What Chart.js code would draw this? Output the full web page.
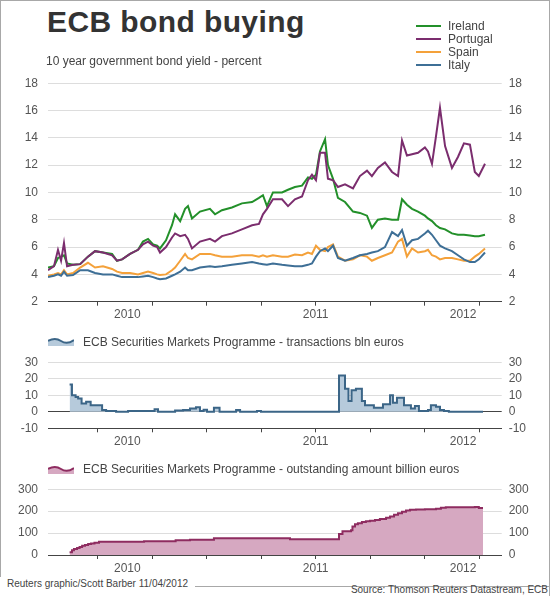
<!DOCTYPE html>
<html>
<head>
<meta charset="utf-8">
<script src="https://cdn.jsdelivr.net/npm/chart.js@4.4.1/dist/chart.umd.min.js"></script>
<style>
  body { margin: 0; background: #fff; }
  #page { position: relative; width: 550px; height: 596px; overflow: hidden;
          font-family: "Liberation Sans", Arial, sans-serif; color: #444; background: #fff; }
  .t { position: absolute; white-space: nowrap; }
  .ln { position: absolute; background: #a8a8a8; }
  canvas { position: absolute; left: 0; }
  .key { position: absolute; height: 2px; width: 25px; left: 416px; }
</style>
</head>
<body>
<div id="page">
  <div class="ln" style="left:0;top:0;width:550px;height:1px"></div>
  <div class="ln" style="left:0;top:0;width:1px;height:577px"></div>
  <div class="ln" style="left:549px;top:0;width:1px;height:596px"></div>
  <div class="ln" style="left:195px;top:586px;width:355px;height:1px"></div>

  <canvas id="yieldChart" width="550" height="264" style="top:66px"></canvas>
  <canvas id="smpChart" width="550" height="110" style="top:345px"></canvas>
  <canvas id="stockChart" width="550" height="106" style="top:472px"></canvas>

  <div class="t" style="left:47px;top:7px;font-size:30px;line-height:30px;font-weight:bold;letter-spacing:0.4px;color:#333">ECB bond buying</div>
  <div class="t" style="left:46px;top:55px;font-size:12px;line-height:12px">10 year government bond yield - percent</div>

  <div class="key" style="top:25px;background:#23902a"></div>
  <div class="t" style="left:448px;top:20px;font-size:12px;line-height:12px">Ireland</div>
  <div class="key" style="top:38px;background:#7b2d6e"></div>
  <div class="t" style="left:448px;top:33px;font-size:12px;line-height:12px">Portugal</div>
  <div class="key" style="top:51px;background:#f4a13a"></div>
  <div class="t" style="left:448px;top:46px;font-size:12px;line-height:12px">Spain</div>
  <div class="key" style="top:63.5px;background:#3e6f96"></div>
  <div class="t" style="left:448px;top:58.5px;font-size:12px;line-height:12px">Italy</div>

  <svg class="t" style="left:48px;top:337px" width="26" height="9">
    <path d="M0 4 Q7 0 13 4 T26 3 L26 9 L0 9 Z" fill="#b6cadb"/>
    <path d="M0 4 Q7 0 13 4 T26 3" fill="none" stroke="#3b6587" stroke-width="2"/>
  </svg>
  <div class="t" style="left:83px;top:335.7px;font-size:12px;line-height:12px">ECB Securities Markets Programme - transactions bln euros</div>

  <svg class="t" style="left:48px;top:465px" width="26" height="9">
    <path d="M0 4 Q7 0 13 4 T26 3 L26 9 L0 9 Z" fill="#d6a8c1"/>
    <path d="M0 4 Q7 0 13 4 T26 3" fill="none" stroke="#8e2c60" stroke-width="2"/>
  </svg>
  <div class="t" style="left:83px;top:463.3px;font-size:12px;line-height:12px">ECB Securities Markets Programme - outstanding amount billion euros</div>

  <div class="t" style="left:7px;top:579px;font-size:10px;line-height:10px">Reuters graphic/Scott Barber 11/04/2012</div>
  <div class="t" style="right:2px;top:585px;font-size:10px;line-height:10px">Source: Thomson Reuters Datastream, ECB</div>
</div>

<script>
// x values are months since 1 Jan 2010 (6 = Jul 2010, 12 = Jan 2011 ...)
const X_MIN = 3.26;
const X_MAX = 28.25;
const quarterTicks = [6, 9, 12, 15, 18, 21, 24, 27];
const years = [2010, 2011, 2012];

// 10 year government bond yields, percent
const yieldMonths = [3.26, 3.59, 3.81, 3.98, 4.14, 4.31, 4.64, 5.03, 5.46, 5.85,
  6.29, 6.79, 7.06, 7.34, 7.78, 8.22, 8.49, 8.77, 9.05, 9.27,
  9.43, 9.76, 10.09, 10.26, 10.54, 10.81, 10.97, 11.19, 11.63, 12.18,
  12.46, 12.84, 13.39, 13.94, 14.50, 14.88, 15.10, 15.32, 15.65, 16.15,
  16.48, 16.86, 17.25, 17.58, 17.80, 18.02, 18.24, 18.52, 18.68, 18.96,
  19.23, 19.62, 20.06, 20.44, 20.83, 21.10, 21.43, 21.82, 22.21, 22.54,
  22.76, 23.03, 23.31, 23.64, 24.02, 24.19, 24.41, 24.63, 24.85, 25.13,
  25.51, 25.84, 26.17, 26.50, 26.77, 26.99, 27.33];
const ireland = [4.5, 4.6, 5.2, 5.3, 5.4, 4.8, 4.7, 4.75, 5.3, 5.7,
  5.6, 5.5, 5.0, 5.1, 5.5, 5.8, 6.4, 6.6, 6.2, 6.1,
  5.9, 6.5, 7.6, 8.4, 7.9, 8.8, 9.0, 8.1, 8.6, 8.8,
  8.4, 8.7, 8.9, 9.2, 9.3, 9.6, 9.8, 9.0, 10.0, 10.0,
  10.2, 10.4, 10.5, 11.1, 11.0, 11.3, 13.0, 13.9, 12.0, 11.0,
  9.6, 9.3, 8.6, 8.5, 8.3, 7.4, 8.0, 8.1, 8.0, 8.0,
  9.5, 9.1, 8.8, 8.6, 8.3, 8.1, 7.9, 7.6, 7.4, 7.3,
  7.0, 6.9, 6.9, 6.85, 6.8, 6.8, 6.9];
const portugal = [4.3, 4.6, 5.8, 5.0, 6.3, 4.6, 4.7, 4.75, 5.3, 5.7,
  5.6, 5.4, 5.0, 5.1, 5.5, 5.8, 6.2, 6.4, 6.1, 6.0,
  5.6, 6.0, 6.7, 7.0, 6.8, 6.9, 6.6, 5.9, 6.4, 6.6,
  6.4, 6.8, 7.0, 7.3, 7.6, 7.7, 8.4, 8.8, 9.5, 9.5,
  9.0, 9.5, 9.7, 10.9, 11.3, 10.9, 12.9, 12.9, 11.0, 10.9,
  10.4, 10.6, 10.3, 11.2, 11.6, 11.2, 11.8, 12.2, 11.5, 11.2,
  13.8, 12.7, 12.8, 12.9, 13.3, 13.0, 12.1, 14.1, 16.2, 13.4,
  11.8, 12.6, 13.6, 13.5, 11.5, 11.2, 12.1];
const spain = [3.9, 4.0, 4.1, 4.0, 4.3, 4.0, 4.1, 4.5, 4.85, 4.5,
  4.6, 4.4, 4.2, 4.1, 4.1, 4.0, 4.1, 4.2, 4.1, 4.0,
  3.95, 4.0, 4.3, 4.5, 5.0, 5.5, 5.2, 5.1, 5.5, 5.5,
  5.4, 5.3, 5.3, 5.4, 5.4, 5.3, 5.4, 5.3, 5.4, 5.3,
  5.3, 5.45, 5.4, 5.6, 5.5, 6.1, 5.8, 5.7, 6.0, 6.2,
  5.3, 5.0, 5.1, 5.4, 5.3, 5.0, 5.2, 5.4, 5.6, 6.4,
  6.6, 5.3, 5.9, 5.6, 5.7, 5.8, 5.4, 5.3, 5.1, 5.2,
  5.2, 5.1, 5.0, 5.0, 5.3, 5.5, 5.9];
const italy = [3.8, 3.9, 4.0, 3.9, 4.2, 3.9, 3.95, 4.3, 4.3, 4.1,
  4.0, 4.0, 3.9, 3.8, 3.8, 3.8, 3.85, 3.9, 3.8, 3.7,
  3.65, 3.7, 3.9, 4.0, 4.2, 4.5, 4.3, 4.3, 4.5, 4.6,
  4.55, 4.6, 4.7, 4.8, 4.9, 4.8, 4.75, 4.7, 4.8, 4.7,
  4.65, 4.6, 4.6, 4.7, 4.8, 5.3, 5.7, 5.9, 5.7, 6.1,
  5.2, 5.0, 5.2, 5.4, 5.5, 5.6, 5.7, 6.0, 7.1, 6.8,
  7.25, 6.1, 6.5, 6.6, 7.0, 7.2, 6.9, 6.5, 6.1, 5.9,
  5.7, 5.4, 5.1, 4.9, 4.9, 5.1, 5.6];

// SMP weekly transactions, bln euros
const smpMonths = [4.45, 4.58, 4.78, 4.92, 5.11, 5.36, 5.61, 6.24, 6.46, 7.01,
  7.67, 9.13, 9.32, 10.26, 10.70, 11.08, 11.41, 11.63, 11.83, 12.02,
  12.40, 12.71, 13.62, 13.84, 14.77, 14.99, 19.29, 19.62, 19.81, 19.98,
  20.22, 20.55, 20.72, 21.21, 21.71, 22.10, 22.26, 22.48, 22.87, 23.25,
  23.47, 23.69, 24.19, 24.35, 24.63, 24.85, 25.07, 25.34, 27.22];
const smpWeekly = [16.5, 10, 9, 8, 5, 6, 4, 1, 0.5, 0,
  0.4, 1.5, 0, 0.8, 1, 2, 2.8, 0.5, 1.2, 0,
  2.5, 0, 1, 0, 0.5, 0, 22, 14, 6.5, 13,
  14, 6.5, 4, 2.5, 4.5, 10, 5.5, 8.5, 4, 2,
  3.5, 0.5, 1, 4, 3, 1, 0.5, 0, 0];

// SMP outstanding amount, billion euros
const stockMonths = [4.45, 4.58, 4.69, 4.86, 5.00, 5.14, 5.30, 5.47, 5.63, 5.82,
  6.07, 8.55, 10.29, 11.08, 12.40, 16.59, 19.29, 19.48, 19.95, 20.03,
  20.17, 20.33, 20.55, 20.77, 20.99, 21.27, 21.54, 21.88, 22.10, 22.32,
  22.54, 22.76, 22.98, 23.20, 23.53, 24.02, 24.63, 24.90, 25.17, 26.77,
  26.99, 27.22];
const stockAmount = [12, 22, 27, 32, 37, 42, 46, 50, 53, 56,
  60, 63, 67, 70, 76, 72, 96, 108, 113, 130,
  140, 145, 150, 154, 156, 160, 164, 170, 176, 183,
  190, 197, 203, 206, 208, 209, 211, 215, 218, 219,
  214, 214];

Chart.defaults.font.family = '"Liberation Sans", Arial, sans-serif';
Chart.defaults.font.size = 12;
Chart.defaults.color = '#555';

function pts(xs, ys) {
  return xs.map((x, i) => ({ x: x, y: ys[i] }));
}

function timeAxis(height) {
  return {
    type: 'linear',
    min: X_MIN,
    max: X_MAX,
    afterBuildTicks: axis => {
      const t = quarterTicks.map(v => ({ value: v, mark: true }));
      years.forEach(y => {
        const s = Math.max(X_MIN, (y - 2010) * 12);
        const e = Math.min(X_MAX, (y - 2009) * 12);
        const mid = (s + e) / 2;
        const hit = t.find(k => Math.abs(k.value - mid) < 0.01);
        if (hit) hit.text = String(y);
        else t.push({ value: mid, text: String(y) });
      });
      axis.ticks = t.sort((a, b) => a.value - b.value);
    },
    afterFit: axis => { axis.height = height; },
    ticks: {
      autoSkip: false,
      maxRotation: 0,
      padding: 2,
      callback: (v, i, ticks) => ticks[i].text || ''
    },
    grid: {
      drawOnChartArea: false,
      tickLength: 4,
      tickColor: c => (c.tick && c.tick.mark) ? '#444' : 'rgba(0,0,0,0)'
    },
    border: { color: '#444', width: 1 }
  };
}

function valueAxis(pos, min, max, step, zeroDark) {
  return {
    position: pos,
    min: min,
    max: max,
    afterFit: axis => { axis.width = pos === 'left' ? 48 : 48.3; },
    ticks: { stepSize: step, autoSkip: false, padding: pos === 'left' ? 10 : 7 },
    grid: {
      drawTicks: false,
      drawOnChartArea: pos === 'left',
      color: c => (zeroDark && c.tick && c.tick.value === 0) ? '#444' : '#dddddd'
    },
    border: { display: false }
  };
}

function makeChart(id, datasets, yMin, yMax, yStep, padTop, axisH, zeroDark) {
  return new Chart(document.getElementById(id), {
    type: 'line',
    data: { datasets: datasets },
    options: {
      responsive: false,
      animation: false,
      layout: { padding: { top: padTop, left: 0, right: 0, bottom: 0 } },
      plugins: { legend: { display: false }, tooltip: { enabled: false } },
      elements: { point: { radius: 0 }, line: { tension: 0, borderWidth: 2 } },
      scales: {
        x: timeAxis(axisH),
        y: valueAxis('left', yMin, yMax, yStep, zeroDark),
        yRight: valueAxis('right', yMin, yMax, yStep, false)
      }
    }
  });
}

makeChart('yieldChart', [
  { label: 'Italy', data: pts(yieldMonths, italy), borderColor: '#3e6f96' },
  { label: 'Spain', data: pts(yieldMonths, spain), borderColor: '#f4a13a' },
  { label: 'Portugal', data: pts(yieldMonths, portugal), borderColor: '#7b2d6e' },
  { label: 'Ireland', data: pts(yieldMonths, ireland), borderColor: '#23902a' }
], 2, 18, 2, 10.7, 28.3, false);

makeChart('smpChart', [
  { label: 'transactions', data: pts(smpMonths, smpWeekly), stepped: true,
    borderColor: '#3b6587', backgroundColor: '#b6cadb', fill: 'origin' }
], -10, 30, 10, 8.3, 26.7, true);

makeChart('stockChart', [
  { label: 'outstanding', data: pts(stockMonths, stockAmount), stepped: true,
    borderColor: '#8e2c60', backgroundColor: '#d6a8c1', fill: 'origin' }
], 0, 300, 100, 8.5, 23, false);
</script>
</body>
</html>
